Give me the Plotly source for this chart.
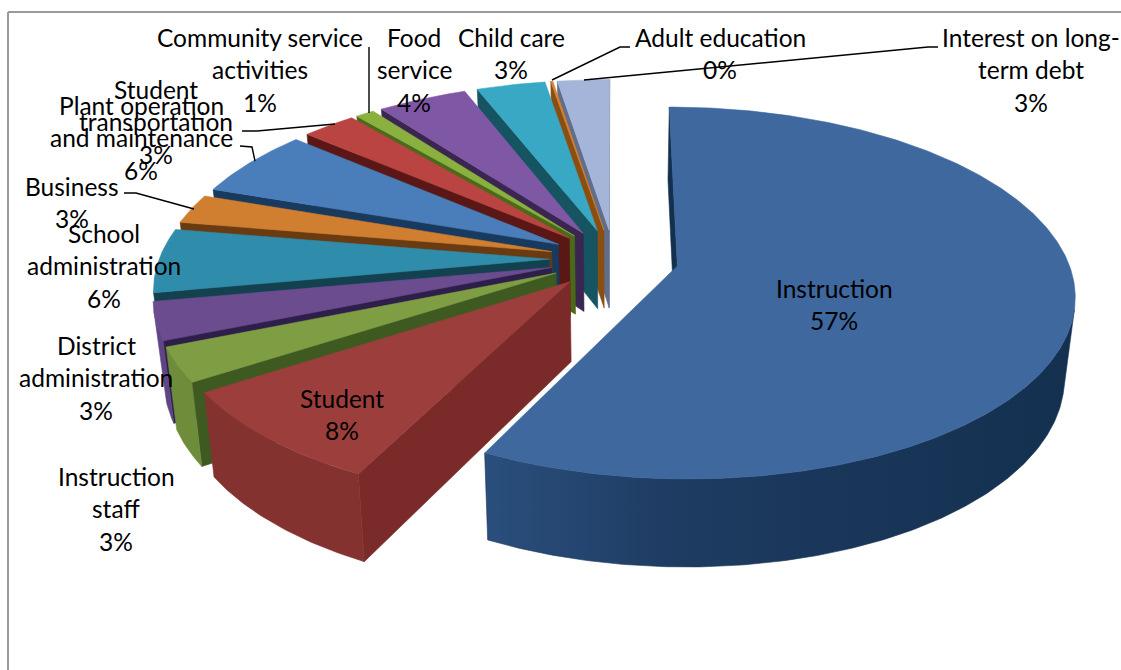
import numpy as np
import plotly.graph_objects as go

# Spending shares in percent, clockwise from the top of the pie
categories = ["Instruction", "Student", "Instruction staff", "District administration",
              "School administration", "Business", "Plant operation and maintenance",
              "Student transportation", "Community service activities", "Food service",
              "Child care", "Adult education", "Interest on long-term debt"]
shares = [57.4, 8.4, 3.0, 3.3, 5.6, 2.6, 6.0, 2.6, 0.9, 4.3, 3.3, 0.1, 2.5]

top_colors = ["#3E689E", "#9C3E3C", "#7F9E43", "#6B4C8F", "#2F8DAB", "#D07E30", "#4A7EBB",
              "#B94441", "#8AB13F", "#7F58A5", "#38A8C4", "#D9822B", "#A5B5DA"]
cut_colors = ["#14304F", "#7A2B29", "#3F5A20", "#2E1F4A", "#134150", "#6A3A10", "#173A5E",
              "#5A1715", "#4A6A1A", "#3A2650", "#155460", "#8A4F10", "#5F6E8C"]
rim_colors = ["#1B3658", "#843230", "#6F8C3A", "#5E4583", "#1F6A80", "#8A4F1A", "#2A5A90",
              "#7A2B29", "#5F7F2A", "#5A3F7A", "#1F7080", "#8A4F10", "#7080A0"]

# Text blocks: centre x, centre y of the first line, lines
label_blocks = [
    (834, 288, ["Instruction", "57%"]),
    (342, 398, ["Student", "8%"]),
    (116, 476, ["Instruction", "staff", "3%"]),
    (96, 345, ["District", "administration", "3%"]),
    (104, 233, ["School", "administration", "6%"]),
    (72, 186, ["Business", "3%"]),
    (141, 105, ["Plant operation", "and maintenance", "6%"]),
    (156, 89, ["Student", "transportation", "3%"]),
    (260, 37, ["Community service", "activities", "1%"]),
    (414, 37, ["Food", "service", "4%"]),
    (511, 37, ["Child care", "3%"]),
    (720, 37, ["Adult education", "0%"]),
    (1031, 37, ["Interest on long-", "term debt", "3%"]),
]
LINE_STEP = 32.7

# Leader lines from outside labels to their slices
leader_lines = [
    ([369, 369], [47, 113]),
    ([242, 257, 335], [131, 131, 124]),
    ([240, 252, 255], [146, 147, 161]),
    ([124, 136, 194], [193, 193, 209]),
    ([630, 620, 552], [47, 47, 80]),
    ([938, 928, 584], [47, 47, 80]),
]

# Camera model of the tilted pie
CX, CY = 614, 259
RX, RY = 390, 180
PERSPECTIVE = 0.145
HEIGHT = 81
FLOOR_SHRINK = 0.024
EXPLODE = 0.166


def project(u, v, z):
    w = (1 + PERSPECTIVE * v) * (1 + FLOOR_SHRINK * z)
    return CX + RX * u / w, CY + (-RY * v + HEIGHT * z) / w


def facing(xs, ys):
    x, y = np.asarray(xs), np.asarray(ys)
    return np.sum(x * np.roll(y, -1) - np.roll(x, -1) * y) < 0


def patch(fig, xs, ys, color, gradient=None):
    kw = dict(fillgradient=gradient) if gradient else dict(fillcolor=color)
    fig.add_trace(go.Scatter(x=list(xs) + [xs[0]], y=list(ys) + [ys[0]], mode="lines", fill="toself",
                             line=dict(color=color, width=0.6), hoverinfo="skip", showlegend=False, **kw))


fig = go.Figure()
total = sum(shares)
edges = np.cumsum([0] + shares) / total * 2 * np.pi
mids = (edges[:-1] + edges[1:]) / 2

# Painter's order: slices furthest from the viewer first
for i in np.argsort(-np.cos(mids)):
    a0, a1, m = edges[i], edges[i + 1], mids[i]
    du, dv = EXPLODE * np.sin(m), EXPLODE * np.cos(m)
    angles = np.linspace(a0, a1, max(3, int(np.degrees(a1 - a0) * 1.5)))
    ou, ov = du + np.sin(angles), dv + np.cos(angles)

    # Flat cut faces on both sides of the wedge
    for (pu, pv), (qu, qv) in (
        ((ou[-1], ov[-1]), (du, dv)),
        ((du, dv), (ou[0], ov[0])),
    ):
        t0 = project(pu, pv, 0); t1 = project(qu, qv, 0)
        b1 = project(qu, qv, 1); b0 = project(pu, pv, 1)
        xs = [t0[0], t1[0], b1[0], b0[0]]
        ys = [t0[1], t1[1], b1[1], b0[1]]
        if facing(xs, ys):
            patch(fig, xs, ys, cut_colors[i])

    # Curved rim: only the part turned towards the viewer
    tx, ty = project(ou, ov, 0)
    bx, by = project(ou, ov, 1)
    keep = [facing([tx[k], tx[k + 1], bx[k + 1], bx[k]], [ty[k], ty[k + 1], by[k + 1], by[k]])
            for k in range(len(angles) - 1)]
    if any(keep):
        idx = np.nonzero(keep)[0]
        s, e = idx[0], idx[-1] + 2
        xs = list(tx[s:e]) + list(bx[s:e][::-1])
        ys = list(ty[s:e]) + list(by[s:e][::-1])
        gradient = None
        if i == 0:
            gradient = dict(type="horizontal",
                            colorscale=[[0, "#2A4F7C"], [0.35, "#1D3A60"], [1, "#14304F"]])
        patch(fig, xs, ys, rim_colors[i], gradient)

    # Top face
    ax, ay = project(du, dv, 0)
    patch(fig, [ax] + list(tx), [ay] + list(ty), top_colors[i])

for lx, ly in leader_lines:
    fig.add_trace(go.Scatter(x=lx, y=ly, mode="lines", line=dict(color="#000000", width=1.4),
                             hoverinfo="skip", showlegend=False))

annotations = []
for cx, cy, lines in label_blocks:
    for n, line in enumerate(lines):
        annotations.append(dict(x=cx, y=cy + n * LINE_STEP, xref="x", yref="y", text=line, showarrow=False,
                                xanchor="center", yanchor="middle",
                                font=dict(family="Lato", size=24.5, color="#000000")))

frame = dict(type="line", xref="x", yref="y", line=dict(color="#9A9A9A", width=2))
fig.update_layout(
    width=1121, height=670, margin=dict(l=0, r=0, t=0, b=0),
    paper_bgcolor="white", plot_bgcolor="white", showlegend=False,
    xaxis=dict(range=[0, 1121], visible=False, fixedrange=True),
    yaxis=dict(range=[670, 0], visible=False, fixedrange=True),
    annotations=annotations,
    shapes=[dict(frame, x0=8, x1=8, y0=12, y1=670), dict(frame, x0=8, x1=1121, y0=12, y1=12)],
)
fig.write_html("out.html", config=dict(displayModeBar=False))
